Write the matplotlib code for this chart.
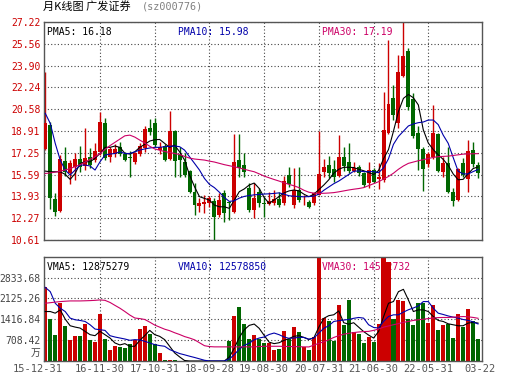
import matplotlib
matplotlib.use('Agg')
import matplotlib.pyplot as plt
import numpy as np

# monthly K-line data, 2015-12 .. 2023-03
opens = [17.52, 19.37, 13.73, 12.81, 16.62, 15.68, 16.19, 16.80, 16.24, 16.90,
         16.70, 17.33, 19.54, 16.95, 17.20, 17.70, 17.13, 16.95, 16.57, 17.16,
         17.60, 19.15, 19.52, 17.45, 17.77, 16.75, 18.92, 17.05, 16.57, 15.90,
         14.29, 13.22, 13.35, 13.45, 13.60, 12.51, 14.16, 13.50, 12.77, 16.70,
         16.32, 14.54, 12.89, 14.29, 13.45, 13.32, 13.40, 13.71, 13.40, 15.56,
         13.28, 14.42, 13.63, 13.53, 13.45, 14.04, 15.81, 16.32, 15.99, 15.50,
         16.96, 16.58, 15.89, 16.20, 15.69, 14.93, 15.94, 15.26, 15.18, 18.79,
         21.40, 19.50, 23.10, 25.04, 21.33, 18.79, 17.52, 16.39, 16.96, 18.69,
         15.82, 16.50, 14.29, 13.66, 16.50, 15.23, 17.47, 16.32]
highs = [23.43, 19.58, 14.16, 17.08, 17.67, 16.70, 17.21, 17.77, 19.11, 17.59,
         17.97, 20.33, 19.93, 17.72, 17.90, 18.10, 17.30, 17.40, 17.30, 18.00,
         19.30, 19.80, 19.93, 18.10, 17.90, 20.46, 19.00, 17.70, 17.21, 15.95,
         14.92, 13.78, 14.04, 13.96, 13.78, 14.16, 14.42, 13.60, 18.65, 18.68,
         17.21, 14.92, 14.92, 14.54, 13.91, 14.29, 14.42, 14.29, 15.48, 16.19,
         16.07, 16.19, 14.04, 13.65, 14.29, 18.91, 16.75, 17.01, 16.70, 18.61,
         17.72, 18.02, 16.53, 16.32, 15.82, 16.58, 16.07, 16.45, 21.91, 25.85,
         22.42, 24.71, 27.40, 25.21, 21.78, 19.26, 17.72, 17.34, 20.90, 18.80,
         16.96, 17.72, 14.55, 16.07, 16.83, 18.23, 18.10, 16.58]
lows = [17.46, 12.94, 12.46, 12.74, 15.51, 14.85, 15.18, 15.81, 15.94, 16.12,
        16.57, 17.08, 16.70, 16.57, 16.95, 17.00, 16.60, 15.43, 16.40, 17.00,
        17.30, 18.61, 17.72, 17.20, 16.60, 16.70, 15.43, 15.43, 15.43, 14.20,
        12.51, 12.77, 12.64, 13.15, 10.61, 12.38, 12.00, 12.13, 12.64, 15.43,
        15.43, 12.77, 12.26, 13.15, 12.38, 13.27, 13.27, 13.15, 13.27, 14.67,
        13.02, 13.53, 13.27, 13.02, 13.27, 14.04, 15.43, 15.31, 15.05, 15.43,
        15.89, 15.69, 15.82, 15.49, 14.67, 14.55, 14.93, 14.50, 15.05, 18.69,
        19.75, 19.12, 23.00, 20.51, 18.36, 15.94, 14.37, 16.18, 16.80, 15.82,
        15.43, 14.20, 13.19, 13.60, 15.43, 14.29, 16.20, 15.31]
closes = [19.55, 13.78, 12.76, 16.75, 15.81, 16.45, 16.78, 16.19, 16.85, 16.32,
          17.41, 19.62, 16.88, 17.54, 17.55, 17.15, 16.72, 16.85, 17.21, 17.77,
          19.05, 18.86, 17.85, 17.72, 16.70, 18.90, 16.62, 16.72, 15.56, 14.29,
          13.25, 13.45, 13.53, 13.83, 12.38, 13.65, 12.69, 13.40, 16.57, 16.07,
          15.81, 12.89, 13.78, 13.40, 13.35, 13.58, 13.71, 13.27, 15.10, 14.85,
          14.40, 13.65, 13.68, 13.15, 14.16, 15.64, 16.19, 15.69, 15.38, 16.96,
          16.25, 15.89, 16.07, 15.69, 14.80, 15.94, 15.05, 15.44, 18.99, 20.97,
          20.13, 23.44, 24.63, 20.77, 18.53, 17.52, 16.00, 17.16, 18.74, 15.89,
          16.45, 14.29, 13.61, 16.00, 15.56, 17.42, 16.39, 15.69]
# volume, unit 10k
volume = [2523, 1422, 894, 1960, 1200, 725, 865, 865, 1264, 725,
          640, 1608, 750, 388, 495, 478, 444, 590, 730, 1090,
          1197, 927, 580, 285, 30, 35, 20, 15, 10, 0,
          0, 0, 0, 0, 0, 0, 0, 669, 1512, 1820,
          1250, 747, 894, 740, 624, 620, 388, 415, 1028, 760,
          1170, 1000, 490, 388, 800, 3600, 1470, 1343, 663, 1905,
          1220, 2074, 972, 927, 624, 826, 658, 1264, 3600, 3355,
          1433, 2074, 2051, 1433, 1231, 1984, 1961, 1276, 1905, 1062,
          1231, 1264, 792, 1602, 1163, 1770, 1343, 759]

pma5 = [15.86, 15.81, 15.81, 15.81, 15.61, 15.23, 15.68, 16.45, 16.57, 16.57,
        16.83, 17.21, 17.67, 17.67, 17.77, 17.67, 17.21, 17.16, 17.33, 17.67,
        17.90, 18.15, 18.25, 18.27, 17.97, 17.67, 17.84, 17.33, 16.70, 15.56,
        14.67, 13.91, 13.78, 13.65, 13.27, 13.14, 13.14, 13.02, 13.65, 14.29,
        14.50, 14.80, 14.95, 14.54, 13.85, 13.40, 13.66, 13.91, 14.20, 14.35,
        14.42, 14.35, 14.10, 13.91, 14.10, 14.45, 14.80, 15.20, 15.70, 16.00,
        16.15, 16.15, 16.13, 16.00, 15.89, 15.75, 15.60, 15.90, 16.80, 17.50,
        18.90, 20.40, 21.40, 21.70, 21.45, 20.90, 19.00, 18.00, 17.50, 17.10,
        16.75, 16.30, 15.65, 15.20, 15.23, 15.65, 16.05, 16.18]
pma10 = [20.26, 19.49, 17.97, 16.70, 15.94, 15.56, 15.94, 16.32, 16.32, 16.25,
         15.94, 16.57, 17.08, 17.16, 17.20, 17.33, 17.20, 17.20, 17.33, 17.46,
         17.55, 17.62, 17.67, 17.67, 17.72, 17.75, 17.77, 17.72, 17.46, 16.95,
         16.45, 15.94, 15.30, 14.85, 14.60, 14.25, 13.85, 13.55, 13.60, 13.80,
         13.93, 14.00, 14.05, 14.08, 14.11, 14.13, 14.16, 14.20, 14.10, 13.98,
         13.95, 13.92, 13.90, 13.92, 13.95, 14.10, 14.40, 14.65, 14.90, 15.10,
         15.35, 15.60, 15.85, 15.87, 15.82, 15.82, 15.82, 15.74, 16.10, 16.80,
         17.90, 18.50, 18.90, 19.30, 19.45, 19.55, 19.60, 19.75, 19.75, 19.40,
         18.60, 17.98, 16.90, 15.85, 15.65, 15.64, 15.82, 15.98]
pma30 = [15.68, 15.72, 15.78, 15.85, 15.95, 16.05, 16.20, 16.35, 16.55, 16.75,
         16.95, 17.20, 17.50, 17.80, 18.05, 18.30, 18.55, 18.60, 18.45, 18.22,
         18.00, 17.75, 17.55, 17.45, 17.35, 17.28, 17.20, 17.12, 16.98, 16.85,
         16.78, 16.74, 16.70, 16.62, 16.55, 16.45, 16.35, 16.27, 16.19, 16.10,
         16.00, 15.90, 15.81, 15.65, 15.48, 15.35, 15.22, 15.10, 14.97, 14.85,
         14.74, 14.60, 14.40, 14.25, 14.18, 14.16, 14.17, 14.19, 14.22, 14.28,
         14.35, 14.42, 14.48, 14.53, 14.60, 14.75, 14.90, 15.05, 15.25, 15.45,
         15.70, 16.00, 16.25, 16.45, 16.55, 16.65, 16.73, 16.82, 16.90, 16.96,
         16.98, 17.00, 17.05, 17.10, 17.15, 17.17, 17.18, 17.19]
vma5 = [1680, 1680, 1624, 1736, 1422, 1197, 1152, 1118, 1006, 894,
        860, 1006, 894, 781, 613, 545, 590, 500, 500, 703,
        860, 1040, 894, 837, 725, 500, 275, 140, 17, 0,
        0, 0, 0, 0, 0, 0, 0, 134, 436, 800,
        1060, 1210, 1255, 1110, 870, 640, 590, 620, 700, 760,
        840, 860, 800, 730, 790, 1150, 1450, 1540, 1570, 1700,
        1300, 1250, 1300, 1150, 1000, 880, 780, 1000, 1500, 1960,
        2020, 2355, 2434, 2074, 1680, 1736, 1736, 1680, 1512, 1377,
        1343, 1264, 1231, 1197, 1197, 1287, 1310, 1288]
vma10 = [2500, 2355, 1961, 1793, 1680, 1456, 1400, 1377, 1343, 1231,
         1085, 1062, 1040, 860, 815, 781, 747, 703, 725, 715,
         669, 613, 556, 523, 500, 388, 320, 253, 210, 163,
         120, 73, 25, 0, 0, 0, 0, 67, 218, 400,
         530, 605, 720, 780, 815, 900, 950, 894, 815, 770,
         780, 804, 800, 740, 780, 950, 1110, 1200, 1343, 1370,
         1390, 1410, 1450, 1478, 1456, 1231, 1141, 1118, 1343, 1512,
         1568, 1568, 1660, 1740, 1800, 1871, 2018, 2018, 1793, 1624,
         1580, 1530, 1490, 1456, 1410, 1380, 1330, 1258]
vma30 = [1961, 1980, 2000, 2018, 2030, 2040, 2040, 2040, 2045, 2051,
         2060, 2074, 2060, 1990, 1890, 1793, 1680, 1560, 1460, 1440,
         1410, 1320, 1220, 1150, 1080, 1030, 960, 900, 830, 780,
         720, 620, 520, 490, 480, 480, 480, 480, 480, 480,
         480, 480, 480, 490, 500, 500, 500, 500, 495, 490,
         490, 485, 480, 478, 540, 600, 650, 720, 800, 860,
         910, 940, 965, 985, 1000, 1006, 1040, 1085, 1150, 1190,
         1231, 1270, 1310, 1345, 1377, 1400, 1420, 1440, 1460, 1475,
         1478, 1478, 1490, 1500, 1510, 1500, 1480, 1451]

price_ticks = [10.61, 12.27, 13.93, 15.59, 17.25, 18.91, 20.58, 22.24, 23.90, 25.56, 27.22]
vol_ticks = [708.42, 1416.84, 2125.26, 2833.68]
date_labels = ['15-12-31', '16-11-30', '17-10-31', '18-09-28', '19-08-30',
               '20-07-31', '21-06-30', '22-05-31', '03-22']
date_pos = [-1.5, 11, 22, 33, 44, 55, 66, 77, 87.4]

RED = '#cc0000'
GREEN = '#006600'
BLUE = '#0000aa'
PINK = '#cc0066'
MONO = 'DejaVu Sans Mono'

x = np.arange(len(closes))
o = np.array(opens)
c = np.array(closes)
up = c >= o
colors = np.where(up, RED, GREEN)

fig = plt.figure(figsize=(5.3, 3.91), dpi=100)
ax1 = fig.add_axes([44/530, 1-240/391, 438/530, 218/391])
ax2 = fig.add_axes([44/530, 1-361/391, 438/530, 104.3/391])

# price panel
ax1.vlines(x, lows, highs, colors=colors, lw=1, zorder=2)
body_h = np.maximum(np.abs(c - o), 0.06)
ax1.bar(x, body_h, bottom=np.minimum(o, c), width=0.8, color=colors, lw=0, zorder=3)
ax1.plot(x, pma5, color='black', lw=0.8, zorder=4)
ax1.plot(x, pma10, color=BLUE, lw=0.8, zorder=4)
ax1.plot(x, pma30, color=PINK, lw=0.8, zorder=4)
ax1.set_ylim(price_ticks[0], price_ticks[-1])
ax1.set_yticks(price_ticks)
ax1.set_yticklabels(['%.2f' % v for v in price_ticks], color=RED,
                    fontfamily=MONO, fontsize=7)

ax1.text(0.007, 0.954, 'PMA5: 16.18', transform=ax1.transAxes, color='black',
         fontfamily=MONO, fontsize=7, va='center', zorder=1)
ax1.text(0.305, 0.954, 'PMA10: 15.98', transform=ax1.transAxes, color=BLUE,
         fontfamily=MONO, fontsize=7, va='center', zorder=1)
ax1.text(0.635, 0.954, 'PMA30: 17.19', transform=ax1.transAxes, color=PINK,
         fontfamily=MONO, fontsize=7, va='center', zorder=1)

# volume panel
ax2.bar(x, volume, width=0.82, color=colors, lw=0, zorder=2)
ax2.plot(x, vma5, color='black', lw=0.8, zorder=4)
ax2.plot(x, vma10, color=BLUE, lw=0.8, zorder=4)
ax2.plot(x, vma30, color=PINK, lw=0.8, zorder=4)
ax2.set_ylim(0, 3542.1)
ax2.set_yticks(vol_ticks)
ax2.set_yticklabels(['%.2f' % v for v in vol_ticks], color='#444444',
                    fontfamily=MONO, fontsize=7)
ax2.text(-0.008, 280, '万', transform=ax2.get_yaxis_transform(), ha='right',
         va='center', color='#444444', fontsize=7,
         family=['Noto Sans CJK SC', 'DejaVu Sans'])

ax2.text(0.007, 0.904, 'VMA5: 12875279', transform=ax2.transAxes, color='black',
         fontfamily=MONO, fontsize=7, va='center', zorder=1)
ax2.text(0.305, 0.904, 'VMA10: 12578850', transform=ax2.transAxes, color=BLUE,
         fontfamily=MONO, fontsize=7, va='center', zorder=1)
ax2.text(0.635, 0.904, 'VMA30: 14512732', transform=ax2.transAxes, color=PINK,
         fontfamily=MONO, fontsize=7, va='center', zorder=1)

for lab, pos in zip(date_labels, date_pos):
    ax2.text(pos, -0.08, lab, transform=ax2.get_xaxis_transform(), ha='center',
             va='center', color='#555555', fontfamily=MONO, fontsize=7.5,
             clip_on=False)

for ax in (ax1, ax2):
    ax.set_xlim(-0.26, 87.8)
    ax.set_xticks([11, 22, 33, 44, 55, 66, 77])
    ax.set_xticklabels([])
    ax.tick_params(length=0, pad=2.5)
    ax.grid(True, ls=(0, (1, 2)), color='#444444', lw=0.8, zorder=0)
    ax.set_axisbelow(True)
    for s in ax.spines.values():
        s.set_color('#555555')
        s.set_linewidth(1)

fig.text(43/530, 1-6.5/391, '月K线图 广发证券', fontsize=8, va='center',
         family=['Noto Sans CJK SC', 'DejaVu Sans'])
fig.text(142/530, 1-6.5/391, '(sz000776)', fontsize=7.3, va='center',
         color='#808080', fontfamily=MONO)

fig.savefig('out.png', dpi=100)
